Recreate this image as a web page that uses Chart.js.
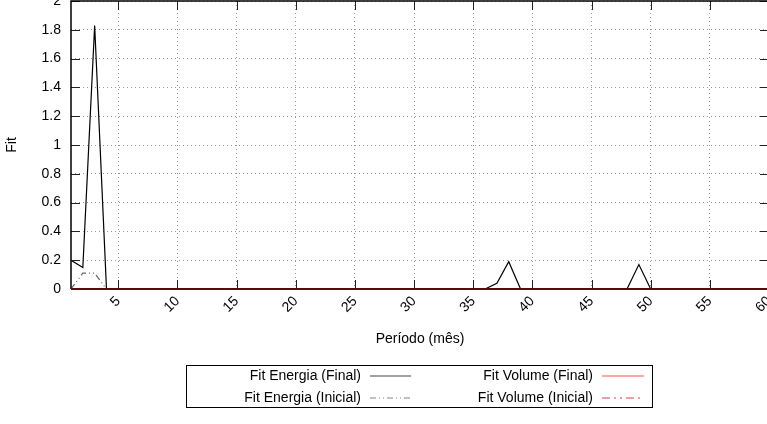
<!DOCTYPE html>
<html lang="pt">
<head>
<meta charset="UTF-8">
<title>Fit por período</title>
<script src="https://cdn.jsdelivr.net/npm/chart.js@4/dist/chart.umd.min.js"></script>
<style>
  html, body { margin: 0; padding: 0; background: #fff; overflow: hidden; }
  canvas { display: block; }
</style>
</head>
<body>
<canvas id="fit-chart" width="775" height="424"></canvas>

<script>
// months 1..60
const meses = [1,2,3,4,5,6,7,8,9,10,11,12,13,14,15,16,17,18,19,20,
               21,22,23,24,25,26,27,28,29,30,31,32,33,34,35,36,37,38,39,40,
               41,42,43,44,45,46,47,48,49,50,51,52,53,54,55,56,57,58,59,60];

const fitEnergiaFinal = [0.2,0.15,1.83,0,0,0,0,0,0,0, 0,0,0,0,0,0,0,0,0,0,
                         0,0,0,0,0,0,0,0,0,0, 0,0,0,0,0,0,0.04,0.19,0,0,
                         0,0,0,0,0,0,0,0,0.17,0, 0,0,0,0,0,0,0,0,0,0];
const fitEnergiaInicial = [0,0.11,0.11,0,0,0,0,0,0,0, 0,0,0,0,0,0,0,0,0,0,
                           0,0,0,0,0,0,0,0,0,0, 0,0,0,0,0,0,0,0,0,0,
                           0,0,0,0,0,0,0,0,0,0, 0,0,0,0,0,0,0,0,0,0];
const fitVolumeFinal = [0,0,0,0,0,0,0,0,0,0, 0,0,0,0,0,0,0,0,0,0,
                        0,0,0,0,0,0,0,0,0,0, 0,0,0,0,0,0,0,0,0,0,
                        0,0,0,0,0,0,0,0,0,0, 0,0,0,0,0,0,0,0,0,0];
const fitVolumeInicial = [0,0,0,0,0,0,0,0,0,0, 0,0,0,0,0,0,0,0,0,0,
                          0,0,0,0,0,0,0,0,0,0, 0,0,0,0,0,0,0,0,0,0,
                          0,0,0,0,0,0,0,0,0,0, 0,0,0,0,0,0,0,0,0,0];

const xTicks = [5,10,15,20,25,30,35,40,45,50,55,60];
const yTicks = [0,0.2,0.4,0.6,0.8,1,1.2,1.4,1.6,1.8,2];

const FONT = '"Liberation Sans", Arial, sans-serif';

function pts(vals) {
    return meses.map((m, i) => ({x: m, y: vals[i]}));
}

// gnuplot style frame, inward ticks and boxed legend
const gnuFrame = {
    id: 'gnuFrame',
    afterDatasetsDraw(chart) {
        const ctx = chart.ctx;
        const a = chart.chartArea;
        const sx = chart.scales.x, sy = chart.scales.y;
        ctx.save();
        ctx.strokeStyle = '#222';
        ctx.lineWidth = 1;
        ctx.beginPath();
        xTicks.forEach(v => {
            const px = Math.round(sx.getPixelForValue(v)) + 0.5;
            ctx.moveTo(px, a.bottom); ctx.lineTo(px, a.bottom - 9);
            ctx.moveTo(px, a.top); ctx.lineTo(px, a.top + 9);
        });
        yTicks.forEach(v => {
            const py = Math.round(sy.getPixelForValue(v)) + 0.5;
            ctx.moveTo(a.left, py); ctx.lineTo(a.left + 9, py);
            ctx.moveTo(a.right, py); ctx.lineTo(a.right - 9, py);
        });
        ctx.stroke();

        ctx.strokeStyle = '#000';
        ctx.lineWidth = 1.5;
        ctx.beginPath();
        ctx.moveTo(a.left, a.bottom);
        ctx.lineTo(a.left, a.top);
        ctx.lineTo(a.right, a.top);
        ctx.lineTo(a.right, a.bottom);
        ctx.stroke();
        ctx.strokeStyle = '#5a0c0c';
        ctx.lineWidth = 2;
        ctx.beginPath();
        ctx.moveTo(a.left, a.bottom);
        ctx.lineTo(a.right, a.bottom);
        ctx.stroke();

        // legend box
        ctx.strokeStyle = '#000';
        ctx.lineWidth = 1;
        ctx.strokeRect(186.5, 365.5, 466, 42);
        ctx.font = '14px ' + FONT;
        ctx.textAlign = 'right';
        ctx.textBaseline = 'middle';
        ctx.fillStyle = '#000';
        const slots = [
            {tx: 361, x0: 370, x1: 411, y: 376},
            {tx: 361, x0: 370, x1: 411, y: 398},
            {tx: 593, x0: 602, x1: 644, y: 376},
            {tx: 593, x0: 602, x1: 644, y: 398}
        ];
        chart.data.datasets.forEach((ds, i) => {
            const s = slots[i];
            ctx.fillText(ds.label, s.tx, s.y);
            ctx.save();
            ctx.strokeStyle = ds.legendColor;
            ctx.lineWidth = 1.2;
            ctx.setLineDash(ds.borderDash || []);
            ctx.beginPath();
            ctx.moveTo(s.x0, s.y);
            ctx.lineTo(s.x1, s.y);
            ctx.stroke();
            ctx.restore();
        });
        ctx.restore();
    }
};

new Chart(document.getElementById('fit-chart'), {
    type: 'line',
    data: {
        datasets: [{
            label: 'Fit Energia (Final)',
            data: pts(fitEnergiaFinal),
            borderColor: '#000',
            legendColor: '#444',
            borderWidth: 1.2
        }, {
            label: 'Fit Energia (Inicial)',
            data: pts(fitEnergiaInicial),
            borderColor: '#666',
            legendColor: '#888',
            borderWidth: 1.2,
            borderDash: [6, 3, 1, 3, 1, 3]
        }, {
            label: 'Fit Volume (Final)',
            data: pts(fitVolumeFinal),
            borderColor: '#ff3030',
            legendColor: '#ff5050',
            borderWidth: 1.2
        }, {
            label: 'Fit Volume (Inicial)',
            data: pts(fitVolumeInicial),
            borderColor: '#c03030',
            legendColor: '#c84848',
            borderWidth: 1.2,
            borderDash: [8, 4, 2, 4, 2, 4]
        }]
    },
    options: {
        responsive: false,
        animation: false,
        events: [],
        layout: { padding: { left: 0, right: 6, top: 1, bottom: 72 } },
        elements: { point: { radius: 0 }, line: { tension: 0 } },
        plugins: { legend: { display: false }, tooltip: { enabled: false } },
        scales: {
            x: {
                type: 'linear',
                min: 1,
                max: 60,
                afterBuildTicks: s => { s.ticks = xTicks.map(v => ({value: v})); },
                afterFit: s => { s.height = 63; s.paddingLeft = 0; s.paddingRight = 0; },
                grid: { color: '#999', lineWidth: 1, tickLength: 0, drawTicks: false },
                border: { display: false, dash: [1, 3] },
                ticks: { color: '#000', font: { family: FONT, size: 14 }, minRotation: 45, maxRotation: 45, padding: 4, autoSkip: false },
                title: { display: true, text: 'Período (mês)', color: '#000', font: { family: FONT, size: 14 } }
            },
            y: {
                min: 0,
                max: 2,
                afterBuildTicks: s => { s.ticks = yTicks.map(v => ({value: v})); },
                afterFit: s => { s.width = 71; s.paddingTop = 0; s.paddingBottom = 0; },
                grid: { color: '#999', lineWidth: 1, drawTicks: false },
                border: { display: false, dash: [1, 3] },
                ticks: { color: '#000', font: { family: FONT, size: 14 }, padding: 10, callback: v => String(Math.round(v * 10) / 10) },
                title: { display: true, text: 'Fit', color: '#000', font: { family: FONT, size: 14 } }
            }
        }
    },
    plugins: [gnuFrame]
});
</script>
</body>
</html>
